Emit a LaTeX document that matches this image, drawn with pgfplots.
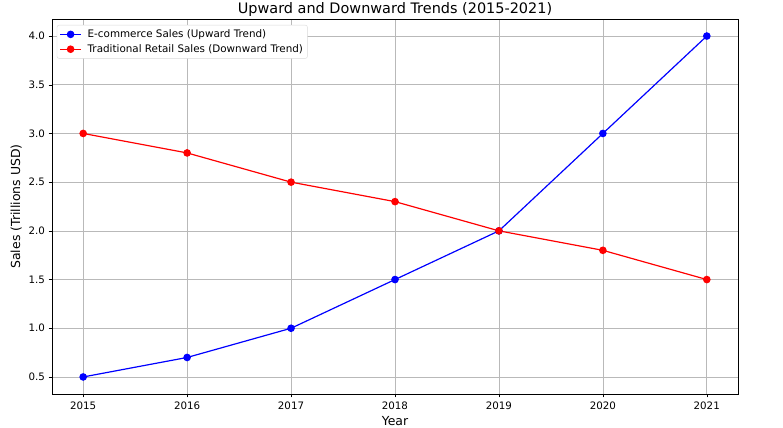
\documentclass[border=0pt]{standalone}
\usepackage{pgfplots}
\pgfplotsset{compat=1.18}
\usepackage{fontspec}
\setmainfont{DejaVu Sans}
\begin{document}
\begin{tikzpicture}
\path[use as bounding box] (-52bp,-34bp) rectangle (731bp,394bp);
\begin{axis}[
  at={(0,0)}, anchor=south west,
  scale only axis, width=686bp, height=375bp,
  xmin=2014.7, xmax=2021.3, ymin=0.325, ymax=4.175,
  xtick={2015,...,2021},
  ytick={0.5,1.0,...,4.0},
  xtick pos=bottom, ytick pos=left,
  /pgf/number format/assume math mode=true,
  x tick label style={/pgf/number format/1000 sep={}, font=\fontsize{10.3}{12}\selectfont, yshift=-1bp},
  y tick label style={/pgf/number format/.cd, fixed, fixed zerofill, precision=1, /tikz/.cd, font=\fontsize{10.3}{12}\selectfont},
  grid=major, major grid style={gray!55, line width=0.6pt},
  tick align=outside, major tick length=3.5bp,
  tick style={black},
  xlabel={Year}, ylabel={Sales (Trillions USD)},
  label style={font=\fontsize{12.5}{14}\selectfont},
  title={Upward and Downward Trends (2015-2021)},
  title style={font=\fontsize{14.5}{16}\selectfont, yshift=-7.5bp},
  legend style={font=\fontsize{10.4}{12}\selectfont, draw=gray!30, rounded corners=2pt, at={(0.007,0.984)}, anchor=north west, row sep=1.5pt, inner sep=2.5pt},
  legend image code/.code={\draw[mark repeat=2,mark phase=2] plot coordinates {(0bp,0bp) (10.5bp,0bp) (21bp,0bp)}; \path (25bp,0bp);},
  legend cell align=left,
]
\addplot[blue, line width=1.2pt, mark=*, mark size=3.2pt] coordinates {
(2015,0.5) (2016,0.7) (2017,1.0) (2018,1.5) (2019,2.0) (2020,3.0) (2021,4.0)};
\addlegendentry{E-commerce Sales (Upward Trend)}
\addplot[red, line width=1.2pt, mark=*, mark size=3.2pt] coordinates {
(2015,3.0) (2016,2.8) (2017,2.5) (2018,2.3) (2019,2.0) (2020,1.8) (2021,1.5)};
\addlegendentry{Traditional Retail Sales (Downward Trend)}
\end{axis}
\end{tikzpicture}
\end{document}
